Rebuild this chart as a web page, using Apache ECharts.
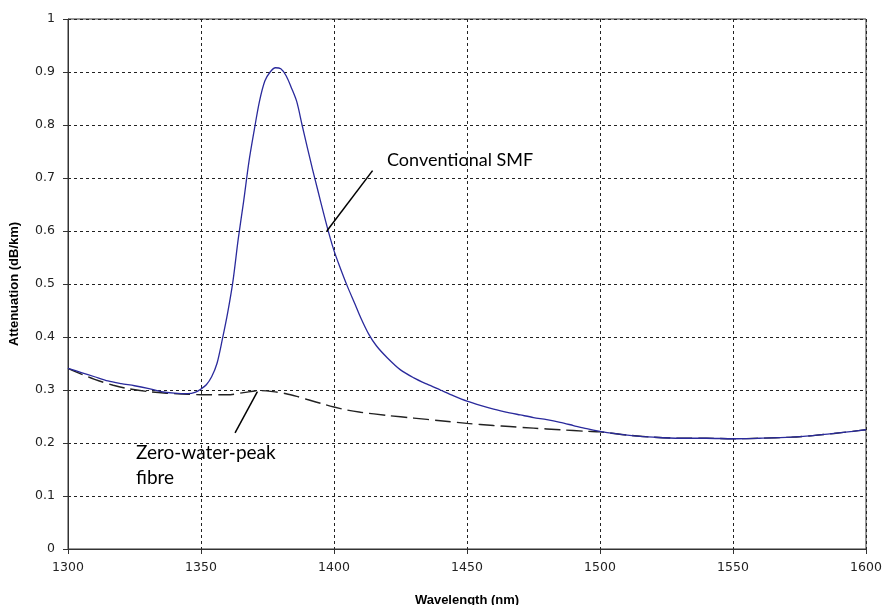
<!DOCTYPE html>
<html>
<head>
<meta charset="utf-8">
<script src="https://cdn.jsdelivr.net/npm/echarts@6/dist/echarts.min.js"></script>
<style>html,body{margin:0;padding:0;background:#fff;}#c{width:882px;height:605px;}</style>
</head>
<body>
<div id="c"></div>
<script>
// Conventional SMF
const smfWl = [1300,1305,1310,1315,1320,1325,1330,1335,1340,1345,1348,1350,1352,1354,1356,1358,1360,1362,1364,1366,1368,1370,1372,1374,1376,1378,1380,1382,1384,1386,1388,1390,1392,1394,1396,1398,1400,1402,1405,1408,1410,1413,1416,1420,1425,1430,1435,1440,1445,1450,1455,1460,1466,1470,1475,1480,1485,1490,1495,1500,1505,1512,1520,1530,1540,1550,1560,1572,1580,1588,1595,1600];
const smfAtt = [0.341,0.333,0.325,0.317,0.312,0.308,0.303,0.297,0.294,0.293,0.296,0.302,0.310,0.325,0.350,0.395,0.445,0.505,0.585,0.655,0.730,0.790,0.845,0.883,0.900,0.908,0.906,0.893,0.870,0.844,0.800,0.757,0.715,0.675,0.635,0.597,0.563,0.535,0.496,0.461,0.437,0.406,0.383,0.361,0.338,0.323,0.311,0.300,0.289,0.279,0.271,0.264,0.257,0.253,0.248,0.244,0.239,0.233,0.227,0.222,0.218,0.214,0.211,0.209,0.209,0.208,0.209,0.211,0.214,0.218,0.222,0.225];
// Zero-water-peak fibre
const zwpWl = [1300,1305,1310,1317,1322,1330,1337,1345,1350,1360,1366,1372,1377,1382,1386,1390,1397,1400,1405,1410,1420,1430,1440,1450,1460,1466,1475,1485,1495,1500,1510,1520,1530,1540,1550,1560,1572,1580,1588,1595,1600];
const zwpAtt = [0.341,0.330,0.320,0.309,0.303,0.297,0.294,0.292,0.291,0.291,0.295,0.299,0.297,0.293,0.288,0.282,0.272,0.268,0.262,0.258,0.252,0.247,0.242,0.237,0.233,0.231,0.228,0.225,0.222,0.221,0.215,0.211,0.209,0.209,0.208,0.209,0.211,0.214,0.218,0.222,0.225];
// annotation leader lines (data coordinates)
const smfLeader = [[1397.3,0.600],[1414.5,0.714]];
const zwpLeader = [[1371.2,0.297],[1362.8,0.219]];
const xTicks = {min:1300,max:1600,interval:50};
const yTicks = {min:0,max:1,interval:0.1};

const zip = (a,b)=>a.map((v,i)=>[v,b[i]]);
const chart = echarts.init(document.getElementById('c'));
const tickFont = {fontFamily:'DejaVu Sans',fontSize:12.5,color:'#222'};
const titleFont = {fontFamily:'Liberation Sans',fontWeight:'bold',fontSize:13,color:'#000'};
chart.setOption({
  animation:false,
  backgroundColor:'#fff',
  grid:{left:68,right:16,top:19,bottom:56,containLabel:false,outerBoundsMode:'none',show:true,borderColor:'#333',borderWidth:1,backgroundColor:'#fff'},
  xAxis:{type:'value',min:xTicks.min,max:xTicks.max,interval:xTicks.interval,
    name:'Wavelength (nm)',nameLocation:'middle',nameGap:45,nameTextStyle:titleFont,
    axisLine:{lineStyle:{color:'#333',width:1}},
    axisTick:{length:5,lineStyle:{color:'#333'}},
    axisLabel:Object.assign({margin:12,formatter:v=>String(v)},tickFont),
    splitLine:{show:true,lineStyle:{color:'#222',type:[3,3],width:1}}},
  yAxis:{type:'value',min:yTicks.min,max:yTicks.max,interval:yTicks.interval,
    name:'Attenuation (dB/km)',nameLocation:'middle',nameGap:47,nameTextStyle:titleFont,
    axisLine:{lineStyle:{color:'#333',width:1}},
    axisTick:{length:5,lineStyle:{color:'#333'}},
    axisLabel:Object.assign({margin:13,formatter:v=>String(Math.round(v*10)/10)},tickFont),
    splitLine:{show:true,lineStyle:{color:'#222',type:[3,3],width:1}}},
  series:[
    {name:'Zero-water-peak fibre',type:'line',data:zip(zwpWl,zwpAtt),showSymbol:false,symbol:'none',smooth:0.3,
      lineStyle:{color:'#222',width:1.4,type:[16,6]},z:3},
    {name:'Conventional SMF',type:'line',data:zip(smfWl,smfAtt),showSymbol:false,symbol:'none',smooth:0.3,
      lineStyle:{color:'#2a2a9c',width:1.3},z:4},
    {type:'line',data:smfLeader,symbol:'none',lineStyle:{color:'#000',width:1.5},z:5,silent:true},
    {type:'line',data:zwpLeader,symbol:'none',lineStyle:{color:'#000',width:1.5},z:5,silent:true}
  ],
  graphic:[
    {type:'text',left:387,top:151,style:{text:'Conventional SMF',font:'18px Lato',fill:'#000'}},
    {type:'text',left:136,top:440,style:{text:'Zero-water-peak\nfibre',font:'19px Lato',lineHeight:25,fill:'#000'}}
  ]
});
</script>
</body>
</html>
